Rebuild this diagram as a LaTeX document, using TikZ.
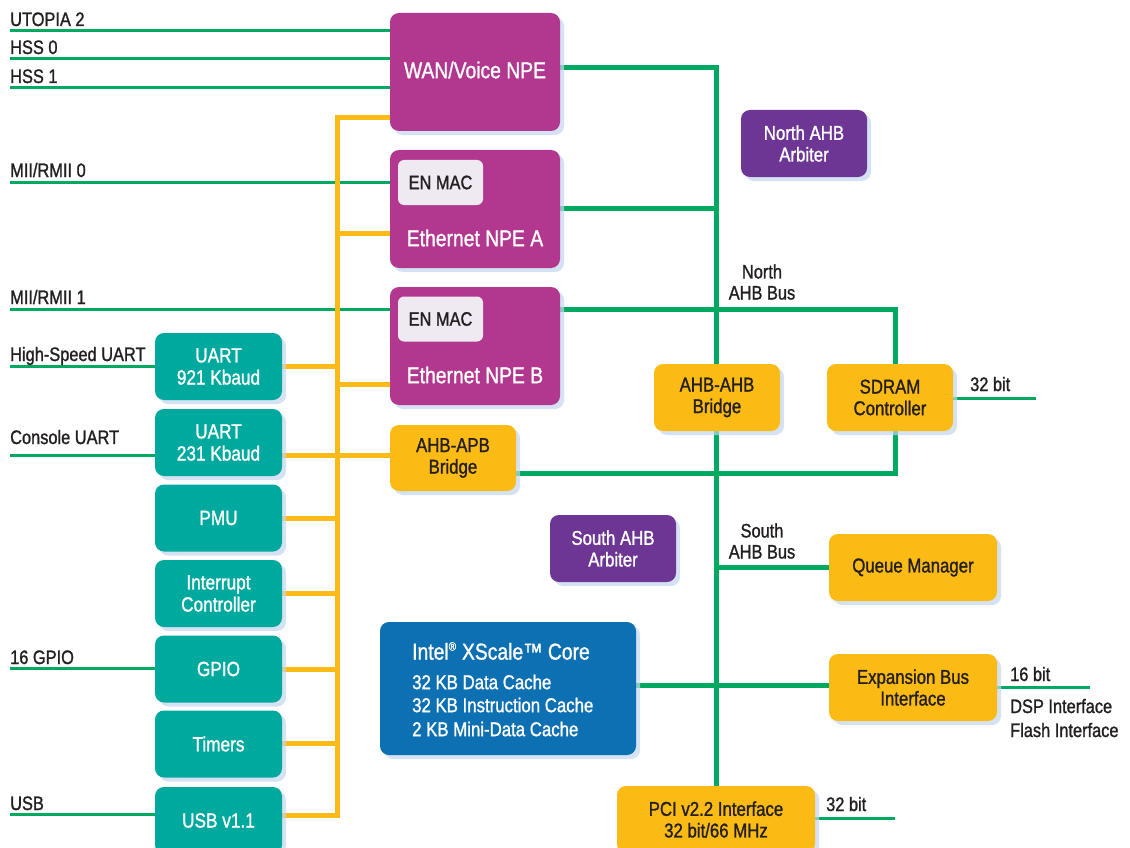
\documentclass[tikz,border=0pt]{standalone}
\usepackage{fontspec}
\setmainfont{Liberation Sans}[FakeStretch=0.84,FakeBold=1.2]
\usetikzlibrary{shadows,backgrounds}
\definecolor{npec}{HTML}{B2388F}
\definecolor{arbc}{HTML}{6D3694}
\definecolor{tealc}{HTML}{00A99E}
\definecolor{yboxc}{HTML}{FCBB14}
\definecolor{bluec}{HTML}{0C70B2}
\definecolor{grc}{HTML}{00A960}
\definecolor{ylc}{HTML}{FBBA15}
\definecolor{macc}{HTML}{EFEAF2}
\definecolor{txtc}{HTML}{231F20}
\definecolor{shadowc}{HTML}{C4D6EE}
\newcommand\myfs[1]{\fontsize{#1}{1.08\dimexpr#1pt\relax}\selectfont}
\begin{document}
\begin{tikzpicture}[x=1pt,y=-1pt,
 blk/.style={rounded corners=9pt, inner sep=0pt, align=center,
   drop shadow={shadow xshift=4pt, shadow yshift=-4pt, fill=shadowc, opacity=0.7}},
 npebox/.style={blk, fill=npec, text=white, minimum width=170pt, minimum height=118pt},
 arbbox/.style={blk, fill=arbc, text=white, minimum width=126pt, minimum height=67pt, font=\myfs{20}},
 ybox/.style={blk, fill=yboxc, text=txtc, minimum height=67pt, font=\myfs{20}},
 tbox/.style={blk, fill=tealc, text=white, minimum width=127pt, minimum height=67pt, font=\myfs{20.5}},
 macbox/.style={rounded corners=6pt, fill=macc, text=txtc, minimum width=85pt, minimum height=45pt, inner sep=0pt, font=\myfs{19.5}},
 wtxt/.style={text=white, inner sep=0pt, font=\myfs{23}},
 ctxt/.style={text=white, inner sep=0pt, anchor=west, font=\myfs{20}},
 gline/.style={draw=grc, line width=3pt},
 gbus/.style={draw=grc, line width=5pt},
 ybus/.style={draw=ylc, line width=5pt},
 lbl/.style={anchor=base west, inner sep=0pt, text=txtc, font=\myfs{19.5}},
 clbl/.style={inner sep=0pt, text=txtc, align=center, font=\myfs{19.5}},
]
\useasboundingbox (0,0) rectangle (1130,848);
\clip (0,0) rectangle (1130,848);

% ---------- blocks ----------
\node[npebox] (wan) at (475,72) {};
\node[wtxt] (want) at (475,70) {WAN/Voice NPE};
\node[npebox] (npea) at (475,209) {};
\node[macbox] (maca) at (440.5,182.5) {EN MAC};
\node[wtxt] (npeat) at (475,238) {Ethernet NPE A};
\node[npebox] (npeb) at (475,346) {};
\node[macbox] (macb) at (440.5,319) {EN MAC};
\node[wtxt] (npebt) at (475,375) {Ethernet NPE B};

\node[arbbox] (narb) at (804,143.5) {North AHB\\Arbiter};
\node[arbbox] (sarb) at (613,548.5) {South AHB\\Arbiter};

\node[ybox, minimum width=126pt] (ahbb) at (717,397.5) {AHB-AHB\\Bridge};
\node[ybox, minimum width=126pt] (sdram) at (890,397.5) {SDRAM\\Controller};
\node[ybox, minimum width=126pt, minimum height=66pt] (apb) at (453,458) {AHB-APB\\Bridge};
\node[ybox, minimum width=168pt] (qm) at (913,567.5) {Queue Manager};
\node[ybox, minimum width=168pt] (exp) at (913,687.5) {Expansion Bus\\Interface};
\node[ybox, minimum width=198pt] (pci) at (716,819.5) {PCI v2.2 Interface\\32 bit/66 MHz};

\node[blk, fill=bluec, minimum width=256pt, minimum height=133pt] (core) at (508,688.5) {};
\node[ctxt, font=\myfs{23}] (coret) at (412,651) {Intel\textsuperscript{\myfs{12}®} XScale™ Core};
\node[ctxt] (c1) at (412,682) {32 KB Data Cache};
\node[ctxt] (c2) at (412,705) {32 KB Instruction Cache};
\node[ctxt] (c3) at (412,729) {2 KB Mini-Data Cache};

\node[tbox] (uart1) at (218.5,366.5) {UART\\921 Kbaud};
\node[tbox] (uart2) at (218.5,442.5) {UART\\231 Kbaud};
\node[tbox] (pmu) at (218.5,518) {PMU};
\node[tbox] (intc) at (218.5,593.5) {Interrupt\\Controller};
\node[tbox] (gpio) at (218.5,669) {GPIO};
\node[tbox] (timers) at (218.5,744) {Timers};
\node[tbox] (usb) at (218.5,820.5) {USB v1.1};

% ---------- labels ----------
\node[lbl] (lut) at (10,26) {UTOPIA 2};
\node[lbl] (lh0) at (10,54) {HSS 0};
\node[lbl] (lh1) at (10,83) {HSS 1};
\node[lbl] (lm0) at (10,177) {MII/RMII 0};
\node[lbl] (lm1) at (10,304) {MII/RMII 1};
\node[lbl] (lhs) at (10,361) {High-Speed UART};
\node[lbl] (lcu) at (10,444) {Console UART};
\node[lbl] (lgp) at (10,664) {16 GPIO};
\node[lbl] (lus) at (10,810) {USB};
\node[clbl] (lnb) at (762,282) {North\\AHB Bus};
\node[clbl] (lsb) at (762,541) {South\\AHB Bus};
\node[lbl] (l32a) at (970,391) {32 bit};
\node[lbl] (l16) at (1010,681) {16 bit};
\node[lbl] (ldsp) at (1010,713) {DSP Interface};
\node[lbl] (lfl) at (1010,737) {Flash Interface};
\node[lbl] (l32b) at (826,811) {32 bit};

% ---------- free ends ----------
\coordinate (eut) at (10,31);
\coordinate (eh0) at (10,59);
\coordinate (eh1) at (10,88);
\coordinate (em0) at (10,182);
\coordinate (em1) at (10,309);
\coordinate (ehs) at (10,366);
\coordinate (ecu) at (10,455);
\coordinate (egp) at (10,668);
\coordinate (eus) at (10,814);
\coordinate (esd) at (1036,398);
\coordinate (eex) at (1090,687);
\coordinate (epc) at (895,818);
\coordinate (ybt) at (337,118);
\coordinate (ybb) at (337,815);
\coordinate (nbx) at (716,68);
\coordinate (sdx) at (895,309);
\coordinate (sdy) at (895,473);

\begin{scope}[on background layer]
\fill[white] (0,0) rectangle (1130,848);
% external green lines
\draw[gline] (eut) -- (wan.west |- eut);
\draw[gline] (eh0) -- (wan.west |- eh0);
\draw[gline] (eh1) -- (wan.west |- eh1);
\draw[gline] (em0) -- (npea.west |- em0);
\draw[gline] (em1) -- (npeb.west |- em1);
\draw[gline] (ehs) -- (uart1.west |- ehs);
\draw[gline] (ecu) -- (uart2.west |- ecu);
\draw[gline] (egp) -- (gpio.west |- egp);
\draw[gline] (eus) -- (usb.west |- eus);
\draw[gline] (sdram.east |- esd) -- (esd);
\draw[gline] (exp.east |- eex) -- (eex);
\draw[gline] (pci.east |- epc) -- (epc);
% north / south AHB bus
\draw[gbus] (wan.east |- nbx) -- (nbx) -- (ahbb.north -| nbx);
\draw[gbus] (npea.east |- 0,208) -- (nbx |- 0,208);
\draw[gbus] (npeb.east |- sdx) -- (sdx) -- (sdram.north -| sdx);
\draw[gbus] (sdram.south -| sdy) -- (sdy) -- (apb.east |- sdy);
\draw[gbus] (ahbb.south -| nbx) -- (pci.north -| nbx);
\draw[gbus] (nbx |- qm.west) -- (qm.west);
\draw[gbus] (core.east |- 0,685) -- (exp.west |- 0,685);
% APB / peripheral bus
\draw[ybus] (wan.west |- ybt) -- (ybt) -- (ybb) -- (usb.east |- ybb);
\draw[ybus] (ybt |- 0,233) -- (npea.west |- 0,233);
\draw[ybus] (ybt |- 0,384) -- (npeb.west |- 0,384);
\draw[ybus] (uart1.east |- 0,366) -- (ybt |- 0,366);
\draw[ybus] (uart2.east |- 0,455) -- (apb.west |- 0,455);
\draw[ybus] (pmu.east |- 0,518) -- (ybt |- 0,518);
\draw[ybus] (intc.east |- 0,593) -- (ybt |- 0,593);
\draw[ybus] (gpio.east |- 0,669) -- (ybt |- 0,669);
\draw[ybus] (timers.east |- 0,743) -- (ybt |- 0,743);
\end{scope}
\end{tikzpicture}
\end{document}
